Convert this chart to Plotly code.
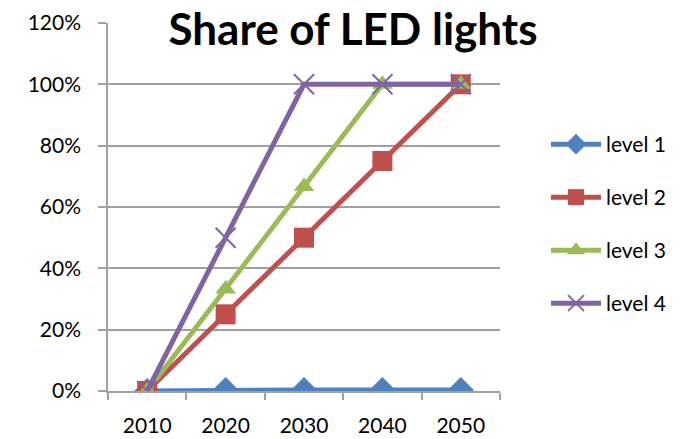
import plotly.graph_objects as go

years = ["2010", "2020", "2030", "2040", "2050"]
level1 = [0.0, 0.003, 0.003, 0.003, 0.003]
level2 = [0.0, 0.25, 0.50, 0.75, 1.00]
level3 = [0.0, 0.333, 0.667, 1.00, 1.00]
level4 = [0.0, 0.50, 1.00, 1.00, 1.00]
names = ["level 1", "level 2", "level 3", "level 4"]
colors = ["#4F81BD", "#C0504D", "#9BBB59", "#8064A2"]
symbols = ["diamond", "square", "triangle-up", "x-thin-open"]
sizes = [20, 20, 18, 20]
yticks = [0, 0.2, 0.4, 0.6, 0.8, 1.0, 1.2]
yticklabels = ["0%", "20%", "40%", "60%", "80%", "100%", "120%"]

fig = go.Figure()
for i, vals in enumerate([level1, level2, level3, level4]):
    marker = dict(symbol=symbols[i], size=sizes[i], color=colors[i])
    if symbols[i] == "x-thin-open":
        marker["line"] = dict(color=colors[i], width=2)
    fig.add_trace(go.Scatter(
        x=years, y=vals, name=names[i], mode="lines+markers",
        line=dict(color=colors[i], width=5),
        marker=marker, legendgroup=names[i],
    ))

fig.update_layout(
    width=693, height=439,
    margin=dict(l=108, r=193, t=23, b=48, autoexpand=False),
    paper_bgcolor="white", plot_bgcolor="white",
    font=dict(family="Lato, sans-serif", size=21, color="black"),
    title=dict(text="<b>Share of LED lights</b>", font=dict(size=44, color="black"),
               x=353 / 693, xanchor="center", xref="container",
               y=1 - 30 / 439, yanchor="middle", yref="container"),
    showlegend=True,
    legend=dict(x=(546 - 108) / 392, xanchor="left", y=(391 - 124) / 368, yanchor="top",
                yref="paper", tracegroupgap=22.7, font=dict(size=21),
                itemwidth=50, bgcolor="rgba(0,0,0,0)"),
)
fig.update_xaxes(
    type="category", range=[-0.5, 4.5], showgrid=False,
    showline=True, linecolor="#A0A0A0", linewidth=1.5,
    ticks="outside", tickson="boundaries", ticklen=7, tickcolor="#A0A0A0", tickwidth=1.5,
    tickfont=dict(size=21), ticklabelstandoff=15,
)
fig.update_yaxes(
    range=[0, 1.2], tickvals=yticks, ticktext=yticklabels,
    showgrid=True, gridcolor="#A0A0A0", gridwidth=1.5,
    showline=True, linecolor="#A0A0A0", linewidth=1.5,
    ticks="outside", ticklen=8, tickcolor="#A0A0A0", tickwidth=1.5,
    ticklabelstandoff=13, zeroline=False,
    tickfont=dict(size=21),
)
fig.write_html("out.html", config={"displayModeBar": False},
               post_script="document.body.style.margin='0';")
